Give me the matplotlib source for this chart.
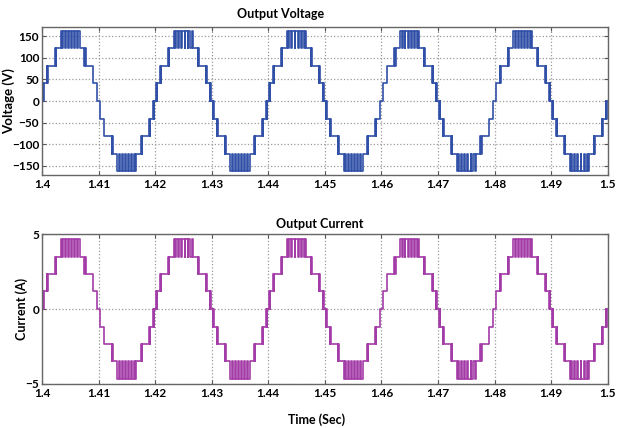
import matplotlib
matplotlib.use("Agg")
import matplotlib.pyplot as plt
import numpy as np

plt.rcParams['font.family'] = ['Lato', 'DejaVu Sans']
plt.rcParams['font.weight'] = 'bold'

# ---------------- data ----------------
cycle_starts = [1.40, 1.42, 1.44, 1.46, 1.48]   # start of each 50 Hz cycle (s)
half_period = 0.01                               # s

# switching instants within one positive half-cycle (ms from its start)
half_t_ms = [0.00, 0.20, 0.27, 0.32, 0.90, 0.97, 1.05, 2.30, 2.40, 2.50,
             3.30, 3.55, 3.75, 4.10, 4.25, 4.65, 4.80, 5.20, 5.35, 5.75,
             5.90, 6.25, 6.45, 6.70, 7.50, 7.60, 7.70, 8.95, 9.03, 9.10,
             9.68, 9.73, 9.80]
# level index taken after each switching instant
half_lvl = [0, 1, 0, 1, 2, 1, 2, 3, 2, 3,
            4, 3, 4, 3, 4, 3, 4, 3, 4, 3,
            4, 3, 4, 3, 2, 3, 2, 1, 2, 1,
            0, 1, 0]

voltage_levels = [0, 41, 82, 122, 163]        # V
current_levels = [0, 1.18, 2.35, 3.5, 4.65]   # A

x_ticks = [1.40, 1.41, 1.42, 1.43, 1.44, 1.45, 1.46, 1.47, 1.48, 1.49, 1.50]
x_tick_labels = ['1.4', '1.41', '1.42', '1.43', '1.44', '1.45', '1.46', '1.47', '1.48', '1.49', '1.5']
v_ticks = [-150, -100, -50, 0, 50, 100, 150]
i_ticks = [-5, 0, 5]


def build(levels):
    t, y = [], []
    for c in cycle_starts:
        for sign, start in ((1, c), (-1, c + half_period)):
            for tm, li in zip(half_t_ms, half_lvl):
                t.append(start + tm / 1000.0)
                y.append(sign * levels[li])
    t.append(1.5)
    y.append(y[-1])
    return np.array(t), np.array(y)


tv, yv = build(voltage_levels)
ti, yi = build(current_levels)

fig = plt.figure(figsize=(6.17, 4.28), dpi=100)
ax1 = fig.add_axes([0.068, 0.591, 0.917, 0.346])
ax2 = fig.add_axes([0.068, 0.103, 0.917, 0.350])

ax1.step(tv, yv, where='post', color='#3050A8', lw=1.2)
ax2.step(ti, yi, where='post', color='#A43CA8', lw=1.2)

for ax in (ax1, ax2):
    ax.set_xlim(1.4, 1.5)
    ax.set_xticks(x_ticks)
    ax.set_xticklabels(x_tick_labels)
    ax.grid(True, linestyle=':', color='#9a9a9a', lw=0.9)
    ax.tick_params(direction='in', top=True, right=True, length=3,
                   labelsize=8.5, color='#555555', pad=3)
    ax.tick_params(axis='y', pad=2)
    for s in ax.spines.values():
        s.set_color('#666666')
        s.set_linewidth(1.0)
    for lab in ax.get_xticklabels() + ax.get_yticklabels():
        lab.set_fontweight('bold')

ax1.set_ylim(-172, 172)
ax1.set_yticks(v_ticks)
ax2.set_ylim(-5, 5)
ax2.set_yticks(i_ticks)

fig.text(281 / 617, 1 - 14 / 428, 'Output Voltage', ha='center', va='center',
         fontsize=9, fontweight='bold')
fig.text(320 / 617, 1 - 224 / 428, 'Output Current', ha='center', va='center',
         fontsize=9, fontweight='bold')
fig.text(317 / 617, 1 - 420 / 428, 'Time (Sec)', ha='center', va='center',
         fontsize=9, fontweight='bold')
fig.text(9 / 617, 1 - 101 / 428, 'Voltage (V)', ha='center', va='center',
         rotation=90, fontsize=9.5, fontweight='bold')
fig.text(22 / 617, 1 - 309 / 428, 'Current (A)', ha='center', va='center',
         rotation=90, fontsize=9, fontweight='bold')

fig.savefig('out.png', dpi=100)
